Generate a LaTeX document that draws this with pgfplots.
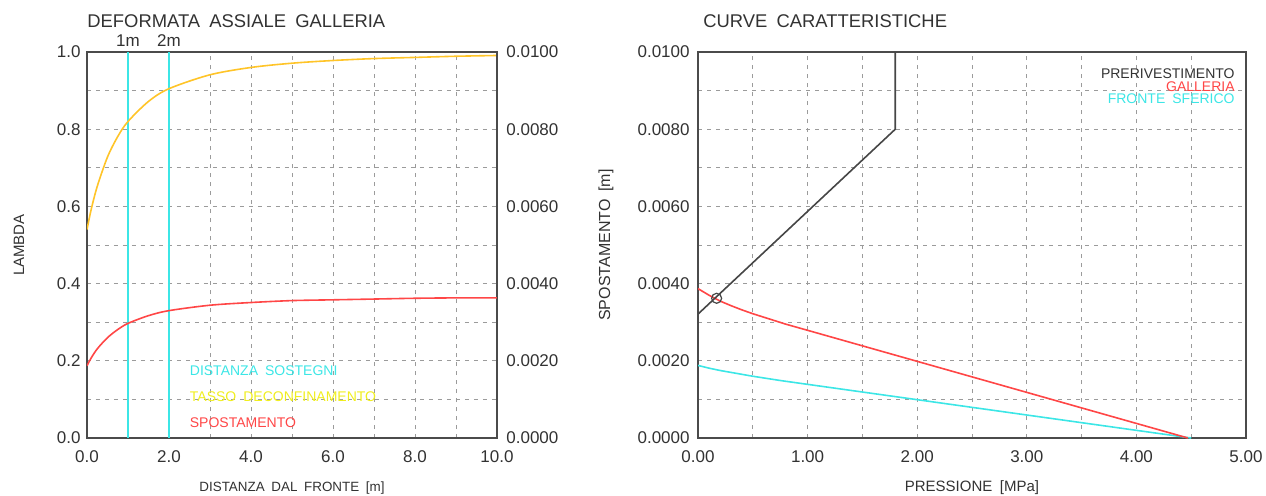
\documentclass[border=0pt]{standalone}
\usepackage{fontspec}
\setmainfont{Liberation Sans}
\usepackage{pgfplots}
\pgfplotsset{compat=1.18}

\definecolor{txt}{RGB}{50,50,50}
\definecolor{axl}{RGB}{75,75,75}
\definecolor{grd}{RGB}{155,155,155}
\definecolor{cy}{RGB}{60,230,230}
\definecolor{ye}{RGB}{255,196,40}
\definecolor{yetxt}{RGB}{240,238,30}
\definecolor{rd}{RGB}{255,70,70}
\definecolor{dk}{RGB}{70,70,70}

\newcommand\gap{\hspace{0.5em}}
\newcommand\tickfont{\fontsize{8.5}{10}\selectfont}
\newcommand\legfont{\fontsize{7}{8}\selectfont}
\newcommand\labfont{\fontsize{7.5}{9}\selectfont}

\pgfplotsset{
  cad/.style={
    scale only axis,
    height=193pt,
    clip mode=individual,
    axis line style={axl, line width=0.8pt},
    major tick length=0pt, minor tick length=0pt,
    tick label style={font=\tickfont, text=txt, inner sep=0pt},
    /pgf/number format/assume math mode=true,
    scaled ticks=false,
    title style={font=\fontsize{9.2}{11}\selectfont, text=txt, inner sep=0pt, anchor=base west, at={(rel axis cs:0,1)}, yshift=6.5pt},
    xticklabel style={anchor=north, yshift=-6pt},
    every axis x label/.style={at={(rel axis cs:0.5,0)}, anchor=base, yshift=-26.5pt, font=\labfont, text=txt, inner sep=0pt},
  },
  cadgrid/.style={
    grid=both,
    major grid style={grd, line width=0.45pt, dash pattern=on 2pt off 2.5pt},
    minor grid style={grd, line width=0.45pt, dash pattern=on 2pt off 2.5pt},
  },
}

\begin{document}
\begin{tikzpicture}
\path[use as bounding box] (-43.5pt,-28.5pt) rectangle (589.5pt,219pt);

% deformata assiale
\begin{axis}[cad, cadgrid,
  at={(0pt,0pt)}, anchor=south west,
  width=205pt,
  xmin=0, xmax=10, ymin=0, ymax=1,
  xtick={0,2,4,6,8,10}, minor xtick={1,3,5,7,9},
  ytick={0,0.2,0.4,0.6,0.8,1}, minor ytick={0.1,0.3,0.5,0.7,0.9},
  xticklabel style={/pgf/number format/.cd, fixed, fixed zerofill, precision=1},
  yticklabel style={anchor=east, xshift=-3pt, /pgf/number format/.cd, fixed, fixed zerofill, precision=1},
  title={DEFORMATA\gap ASSIALE\gap GALLERIA},
  xlabel={DISTANZA\gap DAL\gap FRONTE\gap [m]},
  xlabel style={font=\fontsize{6.7}{8}\selectfont},
  ylabel={LAMBDA},
  every axis y label/.style={at={(rel axis cs:0,0.5)}, xshift=-34pt, rotate=90, anchor=center, font=\labfont, text=txt, inner sep=0pt},
]
\addplot[cy, line width=0.8pt] coordinates {(1,0) (1,1)};
\addplot[cy, line width=0.8pt] coordinates {(2,0) (2,1)};
\addplot[ye, line width=0.8pt, smooth] coordinates {
  (0,0.540) (0.1,0.591) (0.25,0.652) (0.5,0.728) (0.75,0.781) (1,0.820)
  (1.5,0.872) (2,0.905) (3,0.941) (4,0.960) (5,0.971) (6,0.978)
  (7,0.983) (8,0.986) (9,0.989) (10,0.991)
};
\node[anchor=base, font=\tickfont, text=txt, inner sep=0pt] at (axis cs:1,1) [yshift=3pt] {1m};
\node[anchor=base, font=\tickfont, text=txt, inner sep=0pt] at (axis cs:2,1) [yshift=3pt] {2m};
\node[anchor=base west, font=\legfont, text=cy, inner sep=0pt] at (axis cs:2.5,0.162) {DISTANZA\gap SOSTEGNI};
\node[anchor=base west, font=\legfont, text=yetxt, inner sep=0pt] at (axis cs:2.5,0.095) {TASSO\gap DECONFINAMENTO};
\node[anchor=base west, font=\legfont, text=rd, inner sep=0pt] at (axis cs:2.5,0.027) {SPOSTAMENTO};
\end{axis}

\begin{axis}[cad,
  at={(0pt,0pt)}, anchor=south west,
  width=205pt,
  xmin=0, xmax=10, ymin=0, ymax=0.01,
  hide x axis,
  axis y line*=right,
  ytick={0,0.002,0.004,0.006,0.008,0.01},
  yticklabel style={anchor=west, xshift=4.5pt, /pgf/number format/.cd, fixed, fixed zerofill, precision=4},
]
\addplot[rd, line width=0.8pt, smooth] coordinates {
  (0,0.00187) (0.1,0.00207) (0.25,0.00231) (0.5,0.00260) (0.75,0.00281) (1,0.00297)
  (1.5,0.00317) (2,0.00330) (3,0.00344) (4,0.00351) (5,0.00356) (6,0.00358)
  (7,0.00360) (8,0.00362) (9,0.00363) (10,0.00363)
};
\end{axis}

% curve caratteristiche
\begin{axis}[cad, cadgrid,
  at={(305.5pt,0pt)}, anchor=south west,
  width=274pt,
  xmin=0, xmax=5, ymin=0, ymax=0.01,
  xtick={0,1,2,3,4,5}, minor xtick={0.5,1.5,2.5,3.5,4.5},
  ytick={0,0.002,0.004,0.006,0.008,0.01}, minor ytick={0.001,0.003,0.005,0.007,0.009},
  xticklabel style={/pgf/number format/.cd, fixed, fixed zerofill, precision=2},
  yticklabel style={anchor=east, xshift=-4pt, /pgf/number format/.cd, fixed, fixed zerofill, precision=4},
  title={CURVE\gap CARATTERISTICHE},
  title style={xshift=2.5pt},
  xlabel={PRESSIONE\gap [MPa]},
  ylabel={SPOSTAMENTO\gap [m]},
  every axis y label/.style={at={(rel axis cs:0,0.5)}, xshift=-46pt, rotate=90, anchor=center, font=\fontsize{8}{9}\selectfont, text=txt, inner sep=0pt},
]
\addplot[cy, line width=0.8pt] coordinates {
  (0,0.00188) (0.1,0.00181) (0.2,0.00175) (0.3,0.00170) (0.5,0.00160)
  (0.75,0.00149) (1,0.00139) (4.5,0)
};
\addplot[rd, line width=0.8pt] coordinates {
  (0,0.00387) (0.1,0.00370) (0.2,0.00355) (0.3,0.00343) (0.4,0.00332)
  (0.5,0.00322) (0.6,0.00313) (0.8,0.00295) (1,0.00279) (4.47,0)
};
\addplot[dk, line width=0.8pt] coordinates {(0,0.00321) (1.8,0.008) (1.8,0.01)};
\addplot[dk, only marks, mark=o, mark size=2.5pt, mark options={line width=0.6pt}] coordinates {(0.17,0.00362)};
\node[anchor=base east, font=\legfont, text=txt, inner sep=0pt] at (rel axis cs:1,1) [xshift=-5.5pt, yshift=-13pt] {PRERIVESTIMENTO};
\node[anchor=base east, font=\legfont, text=rd, inner sep=0pt] at (rel axis cs:1,1) [xshift=-5.5pt, yshift=-19.5pt] {GALLERIA};
\node[anchor=base east, font=\legfont, text=cy, inner sep=0pt] at (rel axis cs:1,1) [xshift=-5.5pt, yshift=-25.5pt] {FRONTE\gap SFERICO};
\end{axis}
\end{tikzpicture}
\end{document}
